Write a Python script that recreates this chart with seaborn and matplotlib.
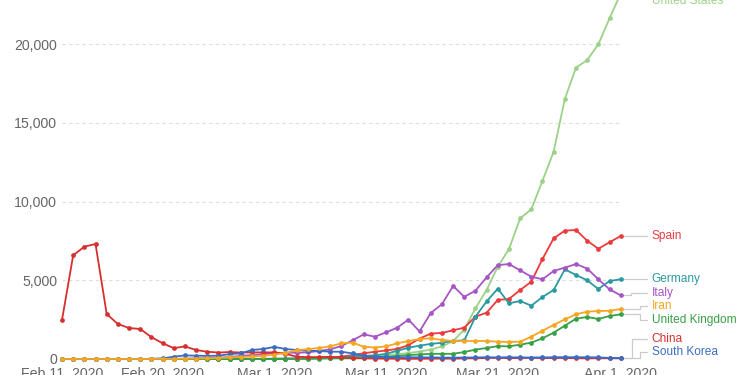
import pandas as pd
import numpy as np
import matplotlib
matplotlib.use("Agg")
import matplotlib.pyplot as plt
import seaborn as sns

dates = pd.date_range("2020-02-11", "2020-04-01", freq="D")

china = [2476, 6584, 7130, 7302, 2857, 2222, 1968, 1905, 1390, 1000,
         690, 800, 571, 460, 410, 440, 410, 420, 420, 420,
         330, 146, 120, 125, 135, 100, 60, 40, 25, 20,
         15, 10, 15, 20, 25, 20, 35, 45, 60, 75,
         50, 60, 70, 60, 60, 65, 50, 40, 45, 45, 40]
south_korea = [0, 0, 0, 0, 0, 0, 0, 5, 15, 40,
               146, 230, 210, 200, 210, 310, 360, 571, 635, 770,
               635, 571, 527, 508, 463, 463, 355, 210, 146, 125,
               110, 110, 105, 100, 90, 85, 90, 100, 110, 100,
               110, 100, 95, 100, 110, 115, 115, 110, 100, 70, 60]
italy = [0, 0, 0, 0, 0, 0, 0, 0, 0, 5,
         10, 20, 40, 60, 90, 120, 200, 250, 300, 380,
         390, 400, 420, 508, 616, 825, 1180, 1566, 1418, 1693,
         1990, 2500, 1750, 2920, 3480, 4635, 3950, 4338, 5185, 5960,
         6030, 5630, 5227, 5060, 5590, 5800, 6030, 5740, 5060, 4420, 4040]
iran = [0, 0, 0, 0, 0, 0, 0, 0, 2, 5,
        10, 20, 30, 45, 60, 100, 130, 160, 200, 280,
        390, 550, 625, 700, 800, 997, 1045, 780, 730, 800,
        997, 1143, 1260, 1320, 1206, 1143, 1143, 1143, 1143, 1100,
        1080, 1100, 1418, 1797, 2159, 2519, 2836, 3005, 3048, 3060, 3175]
germany = [0, 0, 0, 0, 0, 0, 0, 0, 0, 0,
           0, 0, 0, 0, 2, 5, 8, 10, 15, 20,
           25, 30, 40, 50, 60, 100, 190, 200, 230, 330,
           520, 720, 845, 960, 1030, 1150, 1180, 2686, 3660, 4463,
           3536, 3683, 3384, 3937, 4381, 5689, 5333, 4997, 4444, 4952, 5060]
uk = [0, 0, 0, 0, 0, 0, 0, 0, 0, 0,
      0, 0, 0, 0, 0, 0, 1, 2, 3, 5,
      8, 10, 15, 25, 35, 40, 40, 60, 90, 146,
      190, 254, 285, 330, 330, 330, 444, 594, 700, 815,
      804, 910, 1037, 1313, 1671, 2116, 2561, 2667, 2540, 2730, 2836]
us = [0, 0, 0, 0, 0, 0, 0, 0, 0, 0,
      0, 0, 0, 0, 0, 2, 3, 5, 5, 10,
      15, 20, 30, 40, 60, 80, 110, 150, 200, 260,
      300, 380, 470, 600, 800, 1130, 1870, 3219, 4381, 5862,
      6975, 8932, 9500, 11320, 13160, 16510, 18500, 18980, 19980, 21630, 23200]
spain = [0, 0, 0, 0, 0, 0, 0, 0, 0, 0,
         0, 0, 0, 0, 0, 0, 0, 0, 5, 10,
         15, 25, 40, 60, 90, 150, 250, 360, 460, 540,
         640, 880, 1300, 1610, 1660, 1820, 1990, 2690, 2940, 3750,
         3810, 4380, 4910, 6350, 7660, 8150, 8190, 7510, 7000, 7410, 7810]

countries = ["United States", "Spain", "Germany", "Italy", "United Kingdom",
             "China", "South Korea", "Iran"]
series = [us, spain, germany, italy, uk, china, south_korea, iran]
colors = {"United States": "#9bd288", "Spain": "#ec3a3d", "Germany": "#2b9aa0",
          "Italy": "#a656c4", "United Kingdom": "#38a046", "China": "#d62f2f",
          "South Korea": "#3b6cc2", "Iran": "#f5a623"}
# label positions (value units) after collision avoidance
label_y = {"United States": 22700, "Spain": 7810, "Germany": 5060, "Italy": 4190,
           "Iran": 3365, "United Kingdom": 2476, "China": 1270, "South Korea": 425}
elbow_px = {"United States": None, "Spain": None, "Germany": None, "Italy": 631,
            "Iran": 640, "United Kingdom": 640, "China": 632, "South Korea": 640}

df = pd.DataFrame({
    "date": np.tile(dates, len(countries)),
    "country": np.repeat(countries, len(dates)),
    "cases": np.concatenate(series),
})

sns.set_theme(style="white")
plt.rcParams["font.family"] = ["Liberation Sans", "DejaVu Sans"]

W, H = 750, 375
fig = plt.figure(figsize=(7.5, 3.75), dpi=100)
ax_l, ax_r, ax_b, ax_t = 62, 620.7, 359, 0
ax = fig.add_axes([ax_l / W, (H - ax_b) / H, (ax_r - ax_l) / W, (ax_b - ax_t) / H])

sns.lineplot(data=df, x="date", y="cases", hue="country", hue_order=countries,
             palette=colors, marker="o", markersize=3.4, markeredgewidth=0,
             linewidth=1.3, legend=False, ax=ax, clip_on=False)

ymax = (ax_b - ax_t) / 0.01575
ax.set_xlim(dates[0], dates[-1])
ax.set_ylim(0, ymax)

yt = [0, 5000, 10000, 15000, 20000]
ax.set_yticks(yt)
ax.set_yticklabels([f"{v:,}" for v in yt])
xt = pd.to_datetime(["2020-02-11", "2020-02-20", "2020-03-01", "2020-03-11",
                     "2020-03-21", "2020-04-01"])
ax.set_xticks(xt)
ax.set_xticklabels([f"{d.strftime('%b')} {d.day}, {d.year}" for d in xt])
ax.tick_params(axis="y", length=0, pad=3.6, labelsize=10.2, labelcolor="#666666")
ax.tick_params(axis="x", length=0, pad=5.5, labelsize=10.2, labelcolor="#666666")
ax.set_xlabel("")
ax.set_ylabel("")
for s in ax.spines.values():
    s.set_visible(False)
for v in yt[1:]:
    ax.axhline(v, color="#dddddd", lw=0.8, ls=(0, (3, 3)), zorder=0)

span = ax_r - ax_l
fx = lambda px: (px - ax_l) / span
tr = ax.get_yaxis_transform()
for c, vals in zip(countries, series):
    yv = vals[-1]
    ly = label_y[c]
    e = elbow_px[c]
    if c != "United States":
        if e is None:
            xs = [fx(622), fx(647)]
            ys = [yv, ly]
        else:
            xs = [fx(622), fx(e), fx(e), fx(647)]
            ys = [yv, yv, ly, ly]
        ax.plot(xs, ys, color="#cccccc", lw=0.9, transform=tr, clip_on=False, zorder=1)
    ax.text(fx(651.5), ly, c, transform=tr, color=colors[c], fontsize=8.6,
            va="center", ha="left", clip_on=False)

fig.savefig("out.png", dpi=100)
